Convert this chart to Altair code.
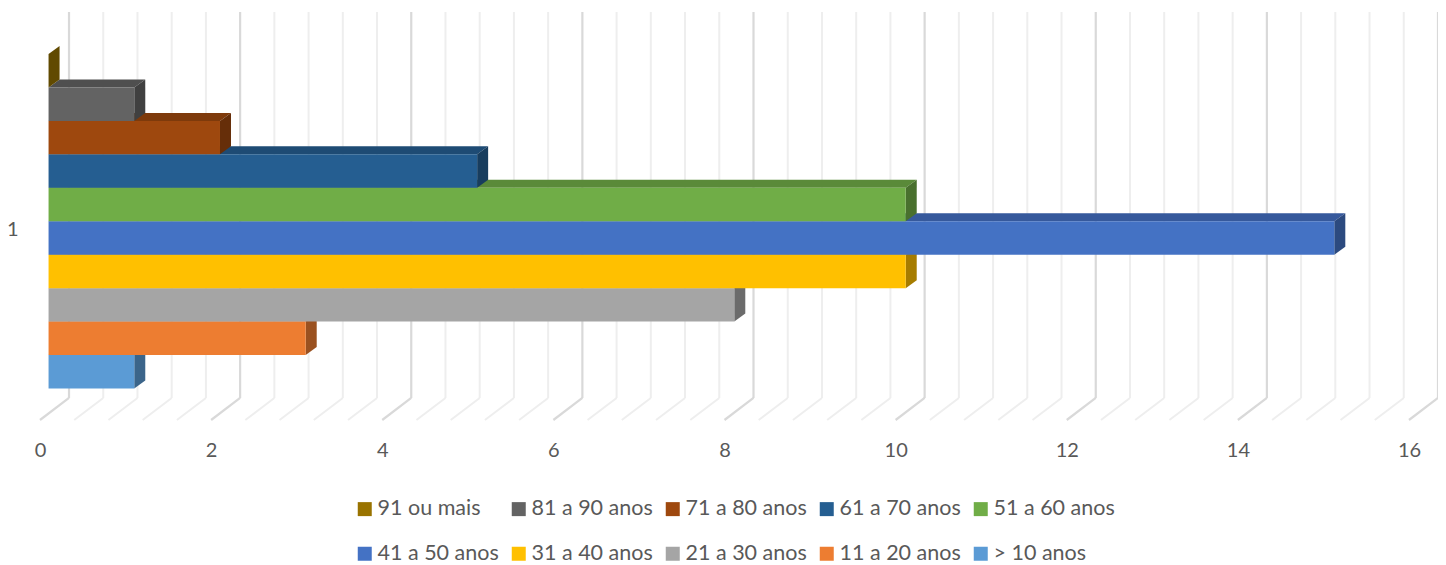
import altair as alt
import pandas as pd

categories = ["91 ou mais", "81 a 90 anos", "71 a 80 anos", "61 a 70 anos", "51 a 60 anos",
              "41 a 50 anos", "31 a 40 anos", "21 a 30 anos", "11 a 20 anos", "> 10 anos"]
values = [0, 1, 2, 5, 10, 15, 10, 8, 3, 1]
front_colors = ["#997300", "#636363", "#9E480E", "#255E91", "#70AD47",
                "#4472C4", "#FFC000", "#A5A5A5", "#ED7D31", "#5B9BD5"]
top_colors = ["#7A5C00", "#4F4F4F", "#7E3A0B", "#1E4B74", "#5A8A39",
              "#36599C", "#CC9A00", "#848484", "#BE6427", "#497CAA"]
side_colors = ["#614A00", "#404040", "#662E09", "#183D5E", "#49702E",
               "#2C4A7F", "#A67C00", "#6B6B6B", "#9A5120", "#3B658A"]
axis_ticks = [0, 2, 4, 6, 8, 10, 12, 14, 16]
grid_steps = list(range(41))  # one gridline every 0.4 on the value axis

# projection of the pseudo-3D box, in data units
BAR_INSET = 0.1
BAR_SCALE = 1.0018
BAR_BASE = -0.015
DX, DY = 0.1286, 0.239
WALL_X, WALL_Y = 0.339, 0.658
FLOOR_Y, TOP_Y = -0.957, 11.24
X_MAX = 16 + WALL_X

x_scale = alt.Scale(domain=[0, X_MAX], nice=False, zero=False)
y_scale = alt.Scale(domain=[FLOOR_Y, TOP_Y], nice=False, zero=False)
x_axis = alt.Axis(values=axis_ticks, title=None, domain=False, ticks=False, grid=False,
                  labelFontSize=20, labelColor="#595959", labelPadding=20, labelFont="Lato",
                  labelFlush=False, format="d")
y_axis = alt.Axis(values=[4.75], title=None, domain=False, ticks=False, grid=False,
                  labelExpr="'1'", labelFontSize=20, labelColor="#595959",
                  labelPadding=22, labelFont="Lato")

X = alt.X("x:Q", scale=x_scale, axis=x_axis)
Y = alt.Y("y:Q", scale=y_scale, axis=y_axis)

grid_rows = []
for k in grid_steps:
    v = k * 0.4
    major = k % 5 == 0
    grid_rows.append({"x": v + WALL_X, "x2": v + WALL_X, "y": FLOOR_Y + WALL_Y, "y2": TOP_Y, "major": major})
    grid_rows.append({"x": v, "x2": v + WALL_X, "y": FLOOR_Y, "y2": FLOOR_Y + WALL_Y, "major": major})
grid_df = pd.DataFrame(grid_rows)

grid_minor = alt.Chart(grid_df[~grid_df.major]).mark_rule(color="#EEEEEE", strokeWidth=2).encode(
    x=X, x2="x2:Q", y=Y, y2="y2:Q")
grid_major = alt.Chart(grid_df[grid_df.major]).mark_rule(color="#D9D9D9", strokeWidth=2.2).encode(
    x=X, x2="x2:Q", y=Y, y2="y2:Q")

legend = alt.Legend(title=None, orient="none", legendX=314, legendY=486, columns=5,
                    direction="horizontal",
                    symbolType="square", symbolSize=196, symbolStrokeWidth=0, symbolOpacity=1,
                    labelFontSize=21.5, labelColor="#595959", labelFont="Lato", labelOffset=2,
                    columnPadding=9, rowPadding=22, gridAlign="all", labelLimit=200, padding=0)
color = alt.Color("cat:N", scale=alt.Scale(domain=categories, range=front_colors),
                  sort=categories, legend=legend)

layers = [grid_minor, grid_major]
# painted from the bottom bar upward so each bar's front hides the top face of the bar below
for idx in range(len(categories) - 1, -1, -1):
    cat, val = categories[idx], values[idx]
    row = len(categories) - 1 - idx
    x0, x1 = BAR_INSET, BAR_INSET + val * BAR_SCALE
    y0, y1 = row + BAR_BASE, row + 1 + BAR_BASE
    top = pd.DataFrame({"x": [x0, x0 + DX], "x2": [x1, x1 + DX], "y": [y1, y1 + DY]})
    side = pd.DataFrame({"x": [x1, x1 + DX], "y": [y0, y0 + DY], "y2": [y1, y1 + DY]})
    front = pd.DataFrame({"x": [x0], "x2": [x1], "y": [y0], "y2": [y1], "cat": [cat]})
    layers.append(alt.Chart(top).mark_area(orient="horizontal", color=top_colors[idx]).encode(
        x=X, x2="x2:Q", y=Y))
    layers.append(alt.Chart(side).mark_area(orient="vertical", color=side_colors[idx]).encode(
        x=X, y=Y, y2="y2:Q"))
    layers.append(alt.Chart(front).mark_rect().encode(x=X, x2="x2:Q", y=Y, y2="y2:Q", color=color))

chart = alt.layer(*layers).properties(
    width=1398, height=408,
    padding={"left": 32, "top": 4, "right": 0, "bottom": 145},
    autosize=alt.AutoSizeParams(type="none"),
    background="white",
).configure_view(stroke=None)

chart.save("out.html", embed_options={"renderer": "svg", "actions": False})
